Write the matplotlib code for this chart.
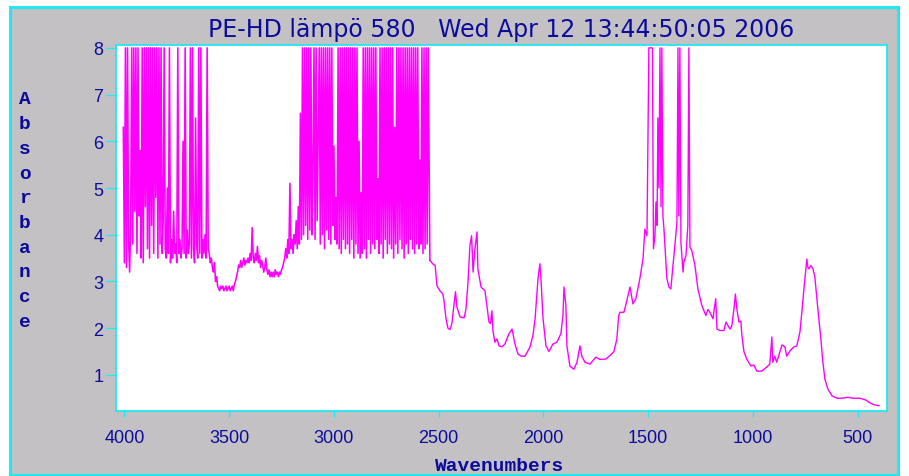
import numpy as np
import matplotlib
matplotlib.use("Agg")
import matplotlib.pyplot as plt
from matplotlib.patches import Rectangle

# --- spectrum data -------------------------------------------------------
# saturated C-H / overtone region, sampled every 5 cm-1 starting at 4005
start_a = 4005
abs_a = [6.3, 3.4, 8, 3.3, 8, 3.9, 3.2, 4.2, 8, 3.8, 8, 4.5, 8, 3.6, 8, 4.4,
         5.8, 3.5, 8, 3.4, 8, 4.6, 8, 3.7, 8, 3.5, 8, 4.2, 8, 3.6, 8, 4.8,
         8, 3.5, 8, 3.8, 8, 3.6, 4.3, 8, 3.7, 3.5, 5.0, 3.6, 8, 3.4, 3.9, 3.5,
         4.5, 3.6, 3.8, 3.4, 8, 3.6, 3.9, 3.5, 3.7, 6.0, 3.6, 8, 3.5, 4.1,
         3.6, 3.8, 8, 3.5, 8, 3.7, 3.4, 6.5, 3.8, 3.5, 8, 3.6, 8, 3.5, 3.9,
         3.6, 4.0, 3.5, 8, 3.7]

start_b = 3595
abs_b = [3.6, 3.4, 3.5, 3.3, 3.2, 3.4, 3.0, 3.1, 2.9, 2.85, 2.8, 2.9, 2.85,
         2.9, 2.8, 2.85, 2.9, 2.8, 2.85, 2.9, 2.8, 2.85, 2.9, 2.8, 2.95,
         3.0, 3.1, 3.2, 3.35, 3.3, 3.45, 3.3, 3.4, 3.5, 3.35, 3.45, 3.4, 3.5,
         3.4, 3.6, 3.45, 4.15, 3.5, 3.4, 3.6, 3.45, 3.75, 3.4, 3.55, 3.3,
         3.45, 3.35, 3.2, 3.3, 3.5, 3.25, 3.15, 3.25, 3.1, 3.2, 3.1, 3.2,
         3.1, 3.25, 3.15, 3.2, 3.1, 3.2, 3.15, 3.25, 3.3, 3.4, 3.5, 3.7,
         3.5, 3.9, 3.6, 5.1, 3.7, 3.9, 3.6, 4.0, 3.8, 4.3, 3.7, 4.6, 3.8,
         6.6, 3.9]

start_c = 3150
abs_c = [8, 4.0, 8, 4.2, 8, 3.9, 8, 4.1, 8, 4.0, 5.4, 8, 3.9, 8, 4.3, 6.2,
         8, 3.8, 8, 4.0, 8, 3.7, 8, 4.1, 8, 3.9, 8, 3.8, 8, 4.2, 5.9, 3.9,
         4.8, 3.8, 8, 3.7, 8, 3.6, 8, 3.9, 8, 3.7, 8, 3.8, 8, 3.6, 8, 3.9,
         8, 3.5, 8, 3.8, 8, 3.6, 6.0, 3.5, 4.9, 3.6, 8, 3.7, 8, 3.5, 8, 3.9,
         8, 3.6, 8, 3.8, 8, 3.7, 8, 3.9, 5.2, 3.6, 8, 3.8, 8, 3.5, 8, 3.9,
         8, 3.6, 8, 3.8, 8, 3.7, 8, 3.5, 6.3, 3.8, 8, 3.6, 8, 3.9, 8, 3.7,
         8, 3.5, 8, 3.8, 8, 3.6, 8, 3.9, 8, 3.7, 8, 3.6, 8, 3.8, 8, 3.7,
         5.6, 3.8, 8, 3.6, 8, 3.7, 8, 3.8, 8]

# fingerprint region, irregular sampling
wn_d = [2542, 2527, 2517, 2508, 2494, 2480, 2475, 2465, 2456, 2446, 2437,
        2427, 2420, 2413, 2398, 2379, 2370, 2360, 2351, 2343, 2336, 2327,
        2317, 2313, 2298, 2279, 2270, 2260, 2253, 2246, 2241, 2232, 2222,
        2212, 2198, 2184, 2165, 2150, 2136, 2122, 2107, 2088, 2064, 2050,
        2040, 2026, 2017, 2012, 2002, 1988, 1974, 1955, 1936, 1917, 1907,
        1902, 1893, 1888, 1874, 1855, 1840, 1826, 1817, 1802, 1778, 1750,
        1731, 1702, 1674, 1664, 1650, 1641, 1635, 1616, 1606, 1587, 1573,
        1559, 1540, 1525, 1516, 1506, 1497, 1480, 1475, 1468, 1463, 1458,
        1454, 1449, 1444, 1439, 1435, 1430, 1425, 1411, 1401, 1392, 1382,
        1373, 1363, 1358, 1354, 1349, 1344, 1334, 1330, 1320, 1311, 1306,
        1301, 1292, 1277, 1263, 1244, 1225, 1215, 1206, 1191, 1187, 1178,
        1172, 1158, 1139, 1129, 1110, 1101, 1091, 1084, 1077, 1067, 1058,
        1053, 1043, 1029, 1010, 996, 982, 958, 934, 920, 910, 906, 896, 887,
        872, 862, 848, 839, 824, 805, 791, 776, 767, 757, 749, 743, 738, 733,
        724, 714, 705, 696, 686, 676, 668, 657, 643, 623, 599, 576, 547, 523,
        490, 461, 442, 423, 399]
abs_d = [3.45, 3.37, 3.34, 2.9, 2.8, 2.73, 2.6, 2.2, 2.0, 1.97, 2.1, 2.5,
         2.78, 2.45, 2.24, 2.22, 2.4, 2.99, 3.77, 3.98, 3.2, 3.7, 4.06, 3.27,
         2.88, 2.8, 2.48, 2.13, 2.1, 2.37, 1.94, 1.7, 1.77, 1.62, 1.6, 1.66,
         1.88, 1.98, 1.66, 1.45, 1.4, 1.4, 1.6, 1.85, 2.2, 3.06, 3.38, 3.06,
         2.2, 1.62, 1.5, 1.66, 1.7, 1.88, 2.27, 2.88, 2.48, 1.62, 1.19, 1.12,
         1.27, 1.62, 1.4, 1.27, 1.23, 1.38, 1.33, 1.34, 1.45, 1.5, 1.76,
         2.27, 2.34, 2.34, 2.52, 2.88, 2.52, 2.63, 3.06, 3.48, 4.12, 3.98,
         8, 8, 3.7, 3.98, 4.7, 4.2, 6.5, 5.0, 8, 4.6, 8, 4.4, 4.12, 3.06,
         2.88, 2.84, 3.34, 3.76, 4.27, 8, 4.4, 8, 3.84, 3.2, 3.42, 3.55,
         4.19, 8, 3.74, 3.66, 3.34, 2.84, 2.48, 2.27, 2.4, 2.34, 2.2, 2.34,
         2.63, 1.98, 1.95, 1.95, 2.13, 1.98, 2.05, 2.41, 2.73, 2.41, 2.13,
         2.15, 1.84, 1.49, 1.33, 1.19, 1.21, 1.08, 1.08, 1.17, 1.23, 1.81,
         1.27, 1.4, 1.27, 1.49, 1.64, 1.6, 1.4, 1.51, 1.6, 1.62, 1.92, 2.34,
         2.84, 3.2, 3.48, 3.3, 3.27, 3.34, 3.27, 3.1, 2.67, 2.2, 1.77, 1.33,
         0.91, 0.7, 0.55, 0.5, 0.5, 0.52, 0.5, 0.5, 0.46, 0.4, 0.36, 0.34]

x_ticks = [4000, 3500, 3000, 2500, 2000, 1500, 1000, 500]
y_ticks = [1, 2, 3, 4, 5, 6, 7, 8]
title = "PE-HD lämpö 580   Wed Apr 12 13:44:50:05 2006"

# --- assemble -----------------------------------------------------------
def stepped(start, vals):
    return start - 5 * np.arange(len(vals))

wn_noisy = np.concatenate([stepped(start_a, abs_a), stepped(start_b, abs_b),
                           stepped(start_c, abs_c), wn_d[:1]])
ab_noisy = np.concatenate([abs_a, abs_b, abs_c, abs_d[:1]])

navy = "#0c0c9c"
cyan = "#22e8f0"
grey = "#c4c1c4"
magenta = "#ff00ff"

fig = plt.figure(figsize=(9.09, 4.77), dpi=100, facecolor="white")
W, H = 909, 477
fig.patches.append(Rectangle((10 / W, 1 - 476 / H), 888 / W, 468 / H,
                             transform=fig.transFigure, facecolor=grey,
                             edgecolor=cyan, linewidth=2.2, zorder=-10))

ax = fig.add_axes([116 / W, 1 - 412.3 / H, 770.7 / W, 366.7 / H])
ax.set_facecolor("white")
# dense spikes drawn a bit heavier so the saturated bands fill in
ax.plot(wn_noisy, ab_noisy, color=magenta, linewidth=1.15)
ax.plot(wn_d, abs_d, color=magenta, linewidth=1.0)
ax.set_xlim(4040, 362)
ax.set_ylim(0.22, 8.07)

ax.set_xticks(x_ticks)
ax.set_yticks(y_ticks)
for s in ax.spines.values():
    s.set_color(cyan)
    s.set_linewidth(1.3)
ax.tick_params(axis="x", colors=cyan, labelcolor=navy, length=4.5, width=1,
               pad=8, labelsize=13)
ax.tick_params(axis="y", colors=cyan, labelcolor=navy, length=7, width=1,
               pad=2, labelsize=13)
for lab in ax.get_xticklabels() + ax.get_yticklabels():
    lab.set_family("Liberation Sans")

fig.text(501 / W, 1 - 30 / H, title, ha="center", va="center", color=navy,
         fontsize=17, family="DejaVu Sans")
fig.text(500 / W, 1 - 467 / H, "Wavenumbers", ha="center", va="center",
         color=navy, fontsize=14, family="Liberation Mono", weight="bold")
for i, ch in enumerate("Absorbance"):
    fig.text(25 / W, 1 - (100 + i * 24.7) / H, ch, ha="center", va="center",
             color=navy, fontsize=14, family="Liberation Mono", weight="bold")

fig.savefig("out.png", dpi=100, facecolor="white")
